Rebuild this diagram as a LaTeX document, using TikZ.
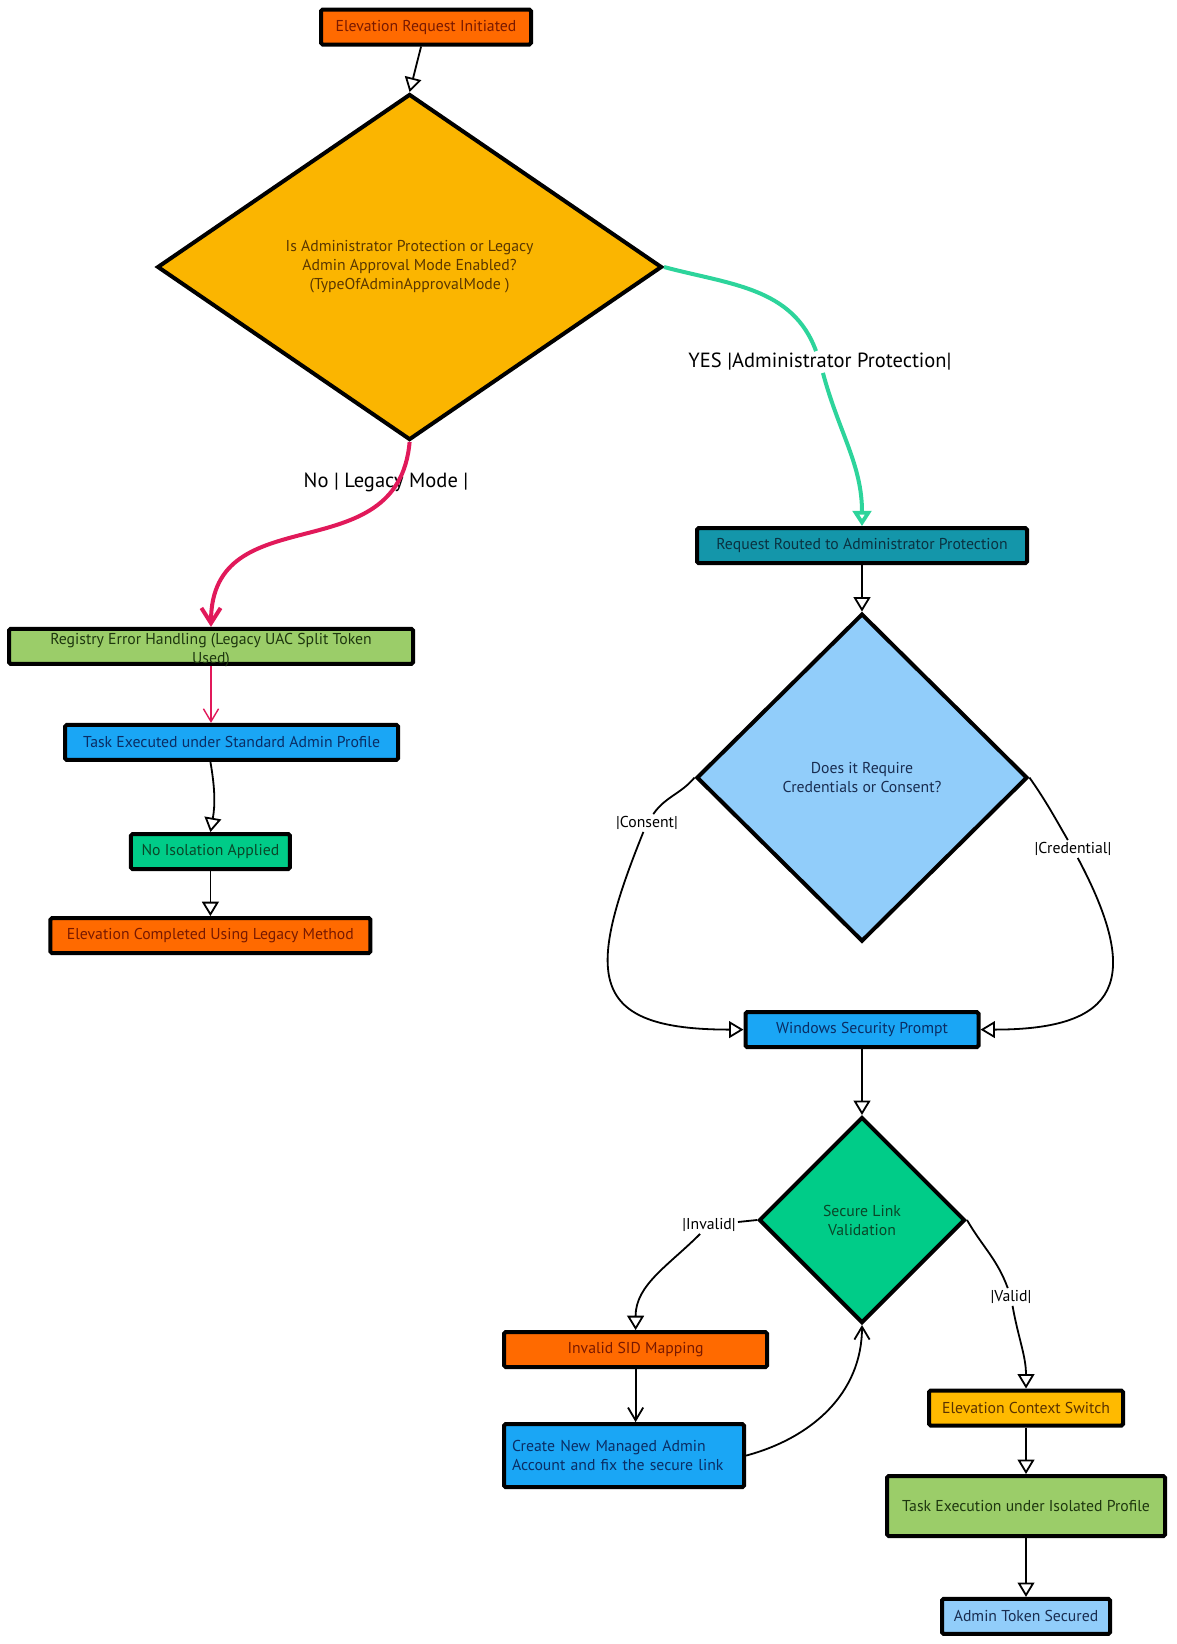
\documentclass[tikz,border=0pt]{standalone}
\usepackage{fontspec}
\setmainfont{PT Sans}
\usetikzlibrary{shapes.geometric, arrows.meta, positioning}

\definecolor{cOrange}{RGB}{255,106,0}
\definecolor{cOrangeTxt}{RGB}{120,25,0}
\definecolor{cAmber}{RGB}{251,181,0}
\definecolor{cAmberTxt}{RGB}{90,55,0}
\definecolor{cTeal}{RGB}{20,150,170}
\definecolor{cTealTxt}{RGB}{10,50,65}
\definecolor{cBlue}{RGB}{26,166,245}
\definecolor{cBlueTxt}{RGB}{10,45,100}
\definecolor{cSky}{RGB}{145,205,250}
\definecolor{cSkyTxt}{RGB}{25,45,80}
\definecolor{cMint}{RGB}{0,204,136}
\definecolor{cMintTxt}{RGB}{10,70,40}
\definecolor{cLime}{RGB}{155,205,105}
\definecolor{cLimeTxt}{RGB}{30,55,15}
\definecolor{cGold}{RGB}{255,186,0}
\definecolor{cGoldTxt}{RGB}{90,50,0}
\definecolor{cYes}{RGB}{45,212,155}
\definecolor{cNo}{RGB}{225,25,90}

\begin{document}
\begin{tikzpicture}[font=\fontsize{11.2}{13.5}\selectfont,
block/.style={rectangle, draw, line width=1mm, rounded corners=0.4mm, minimum height=8.75mm, inner sep=1mm, align=center},
decision/.style={diamond, draw, line width=1mm, inner sep=0pt, align=center},
elabel/.style={inner sep=0.5mm, fill=white},
biglabel/.style={inner sep=0.5mm, font=\fontsize{14.6}{17}\selectfont},
flow/.style={line width=0.45mm, -{Triangle[open, length=3.6mm, width=4.2mm]}},
barb/.style={line width=0.45mm, -{Straight Barb[length=3.2mm, width=3.8mm]}},]
 \useasboundingbox (0,0) rectangle (294.25mm,-411mm);

 \node[block, fill=cOrange, text=cOrangeTxt, minimum width=52.5mm] (start) at (106.5mm,-6.75mm) {Elevation Request Initiated};
 \node[decision, fill=cAmber, text=cAmberTxt, minimum width=126.2mm, minimum height=86.5mm, below of=start, node distance=60mm, xshift=-4.1mm] (q1) {Is Administrator Protection or Legacy\\Admin Approval Mode Enabled?\\(TypeOfAdminApprovalMode )};

 % administrator protection branch
 \node[block, fill=cTeal, text=cTealTxt, minimum width=82.5mm] (routed) at (215.5mm,-136.4mm) {Request Routed to Administrator Protection};
 \node[decision, fill=cSky, text=cSkyTxt, minimum width=82.75mm, minimum height=82mm, below of=routed, node distance=58mm] (q2) {Does it Require\\Credentials or Consent?};
 \node[block, fill=cBlue, text=cBlueTxt, minimum width=58.25mm, below of=q2, node distance=63mm] (prompt) {Windows Security Prompt};
 \node[decision, fill=cMint, text=cMintTxt, minimum width=51.5mm, minimum height=51.5mm, below of=prompt, node distance=47.6mm] (q3) {Secure Link\\Validation};
 \node[block, fill=cOrange, text=cOrangeTxt, minimum width=65.75mm] (sid) at (158.9mm,-337.4mm) {Invalid SID Mapping};
 \node[block, fill=cBlue, text=cBlueTxt, minimum width=60mm, minimum height=15.75mm, text width=56mm, align=left, below of=sid, node distance=26.5mm, xshift=-2.9mm] (newadmin) {Create New Managed Admin\\Account and fix the secure link};
 \node[block, fill=cGold, text=cGoldTxt, minimum width=48.5mm] (ctx) at (256.5mm,-352mm) {Elevation Context Switch};
 \node[block, fill=cLime, text=cLimeTxt, minimum width=69.5mm, minimum height=15mm, below of=ctx, node distance=24.5mm] (isoexec) {Task Execution under Isolated Profile};
 \node[block, fill=cSky, text=cSkyTxt, minimum width=42mm, below of=isoexec, node distance=27.6mm] (token) {Admin Token Secured};

 % legacy branch
 \node[block, fill=cLime, text=cLimeTxt, minimum width=101mm] (registry) at (52.75mm,-161.6mm) {\smash{\raisebox{-1.8mm}{\parbox[c]{95mm}{\centering Registry Error Handling (Legacy UAC Split Token\\Used)}}}};
 \node[block, fill=cBlue, text=cBlueTxt, minimum width=83.25mm, below of=registry, node distance=24mm, xshift=5.15mm] (stdexec) {Task Executed under Standard Admin Profile};
 \node[block, fill=cMint, text=cMintTxt, minimum width=39.75mm, below of=stdexec, node distance=27.3mm, xshift=-5.3mm] (noiso) {No Isolation Applied};
 \node[block, fill=cOrange, text=cOrangeTxt, minimum width=80mm, below of=noiso, node distance=21mm] (legacydone) {Elevation Completed Using Legacy Method};

 % edge labels
 \node[biglabel] (nolbl) at (96.5mm,-120.5mm) {No | Legacy Mode |};
 \node[biglabel, fill=white] (yeslbl) at (205mm,-90.5mm) {YES |Administrator Protection|};
 \node[elabel] (conlbl) at (161.75mm,-205.75mm) {|Consent|};
 \node[elabel] (credlbl) at (268.25mm,-212.25mm) {|Credential|};
 \node[elabel] (invlbl) at (177.25mm,-306.25mm) {|Invalid|};
 \node[elabel] (vallbl) at (252.75mm,-324.25mm) {|Valid|};

 \draw[flow] (start) -- (q1.north);
 \draw[flow, cYes, line width=1mm, -{Triangle[open, length=3.8mm, width=4.6mm]}] (q1.east) to[out=-15, in=110] (yeslbl) to[out=-75, in=90] (routed.north);
 \draw[cNo, line width=1mm, -{Straight Barb[length=3.8mm, width=4.8mm]}] (q1.south) to[out=-95, in=90, looseness=1.25] (registry.north);
 \draw[barb, cNo, line width=0.35mm] (registry) -- (registry |- stdexec.north);
 \draw[flow] (noiso |- stdexec.south) to[bend left=10] (noiso.north);
 \draw[flow] (noiso) -- (legacydone);

 \draw[flow] (routed) -- (q2);
 \draw[flow] (q2.west) to[out=-130, in=55] (conlbl) to[out=-112, in=180, looseness=1.8] (prompt.west);
 \draw[flow] (q2.east) to[out=-55, in=120] (credlbl) to[out=-62, in=0, looseness=1.8] (prompt.east);
 \draw[flow] (prompt) -- (q3);
 \draw[flow] (q3.west) -- (invlbl) to[out=-135, in=90] (sid.north);
 \draw[flow] (q3.east) to[out=-60, in=110] (vallbl) to[out=-80, in=90] (ctx.north);
 \draw[barb] (sid) -- (sid |- newadmin.north);
 \draw[barb] (newadmin.east) to[out=15, in=-90] (q3.south);
 \draw[flow] (ctx) -- (isoexec);
 \draw[flow] (isoexec) -- (token);
\end{tikzpicture}
\end{document}
